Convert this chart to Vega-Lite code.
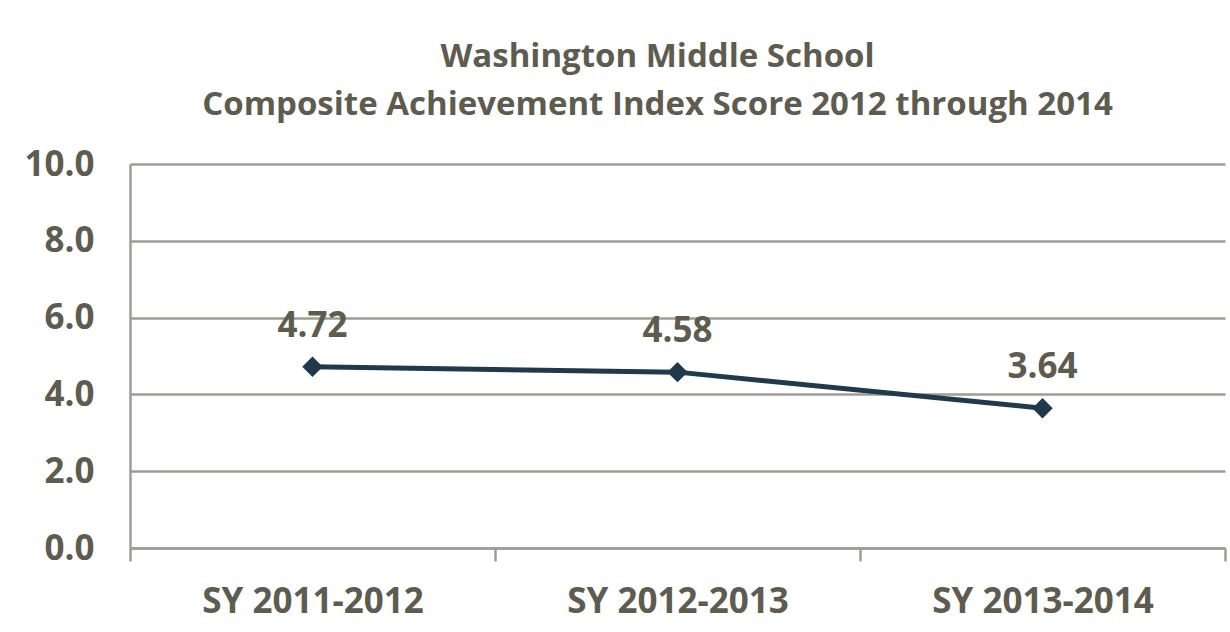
{
  "$schema": "https://vega.github.io/schema/vega-lite/v6.json",
  "width": 1095,
  "height": 384,
  "autosize": {"type": "none"},
  "padding": {"left": 130, "top": 164, "right": 5, "bottom": 84},
  "background": "white",
  "title": {
    "text": ["Washington Middle School", "Composite Achievement Index Score 2012 through 2014"],
    "font": "Open Sans",
    "fontSize": 33,
    "fontWeight": "bold",
    "color": "#5e5b4f",
    "lineHeight": 48,
    "anchor": "middle",
    "dx": -20,
    "offset": 25
  },
  "config": {
    "view": {"stroke": null},
    "axis": {"labelFont": "Open Sans", "labelFontWeight": "bold", "labelColor": "#5e5b4f", "labelFontSize": 35, "labelLimit": 0}
  },
  "data": {
    "values": [
      {"year": "SY 2011-2012", "score": 4.72},
      {"year": "SY 2012-2013", "score": 4.58},
      {"year": "SY 2013-2014", "score": 3.64}
    ]
  },
  "encoding": {
    "x": {
      "field": "year",
      "type": "nominal",
      "sort": null,
      "scale": {"type": "band", "paddingInner": 0, "paddingOuter": 0},
      "axis": {
        "title": null,
        "labelAngle": 0,
        "tickBand": "extent",
        "ticks": true,
        "tickSize": 13,
        "tickWidth": 2.5,
        "tickColor": "#9e9d95",
        "domain": true,
        "domainColor": "#9e9d95",
        "domainWidth": 2.5,
        "grid": false,
        "labelPadding": 23
      }
    },
    "y": {
      "field": "score",
      "type": "quantitative",
      "scale": {"domain": [0, 10], "nice": false, "zero": true},
      "axis": {
        "title": null,
        "values": [0, 2, 4, 6, 8, 10],
        "format": ".1f",
        "ticks": false,
        "domain": true,
        "domainColor": "#9e9d95",
        "domainWidth": 2.5,
        "grid": true,
        "gridColor": "#9e9d95",
        "gridWidth": 2.5,
        "labelPadding": 36
      }
    }
  },
  "layer": [
    {"mark": {"type": "line", "color": "#1f3a4c", "strokeWidth": 5}},
    {"mark": {"type": "point", "shape": "diamond", "filled": true, "color": "#1f3a4c", "size": 420, "opacity": 1}},
    {
      "mark": {"type": "text", "font": "Open Sans", "fontWeight": "bold", "fontSize": 35, "color": "#5e5b4f", "baseline": "alphabetic", "dy": -30},
      "encoding": {"text": {"field": "score", "type": "quantitative", "format": ".2f"}}
    }
  ]
}
